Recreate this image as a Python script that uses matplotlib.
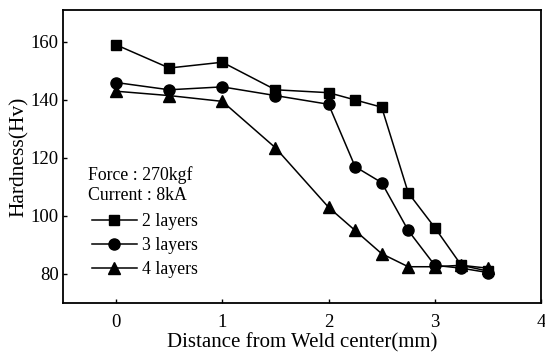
import matplotlib
matplotlib.use("Agg")
import matplotlib.pyplot as plt

plt.rcParams['font.family'] = ['Liberation Serif', 'DejaVu Serif']

x2 = [0, 0.5, 1, 1.5, 2, 2.25, 2.5, 2.75, 3, 3.25, 3.5]
y2 = [159, 151, 153, 143.5, 142.5, 140, 137.5, 108, 96, 83, 81]
x3 = [0, 0.5, 1, 1.5, 2, 2.25, 2.5, 2.75, 3, 3.25, 3.5]
y3 = [146, 143.5, 144.5, 141.5, 138.5, 117, 111.5, 95, 83, 82, 80.5]
x4 = [0, 0.5, 1, 1.5, 2, 2.25, 2.5, 2.75, 3, 3.25, 3.5]
y4 = [143, 141.5, 139.5, 123.5, 103, 95, 87, 82.5, 82.5, 83, 82]
labels = ['2 layers', '3 layers', '4 layers']
xticks = [0, 1, 2, 3, 4]
yticks = [80, 100, 120, 140, 160]

fig = plt.figure(figsize=(5.45, 3.53), dpi=100)
ax = fig.add_axes([63/545, 1 - 303/353, (541-63)/545, (303-10)/353])

ax.plot(x2, y2, color='black', lw=1.1, marker='s', ms=7.5, label=labels[0])
ax.plot(x3, y3, color='black', lw=1.1, marker='o', ms=8, label=labels[1])
ax.plot(x4, y4, color='black', lw=1.1, marker='^', ms=8.5, label=labels[2])

ax.set_xlim(-0.5, 4)
ax.set_ylim(70, 171)
ax.set_xticks(xticks)
ax.set_yticks(yticks)
ax.tick_params(direction='in', length=3, width=1, labelsize=13.5)
ax.tick_params(axis='x', pad=8)
ax.tick_params(axis='y', pad=3)
for s in ax.spines.values():
    s.set_linewidth(1.3)
ax.set_xlabel('Distance from Weld center(mm)', fontsize=15, labelpad=1.5)
ax.set_ylabel('Hardness(Hv)', fontsize=15.5, labelpad=1)

ax.text(0.052, 0.438, 'Force : 270kgf', transform=ax.transAxes, fontsize=12.8, va='center')
ax.text(0.052, 0.366, 'Current : 8kA', transform=ax.transAxes, fontsize=12.8, va='center')
leg = ax.legend(loc='upper left', bbox_to_anchor=(0.035, 0.35), frameon=False,
                fontsize=12.8, handlelength=2.5, handletextpad=0.3, labelspacing=0.4,
                borderpad=0.2)

fig.savefig('out.png', dpi=100)
